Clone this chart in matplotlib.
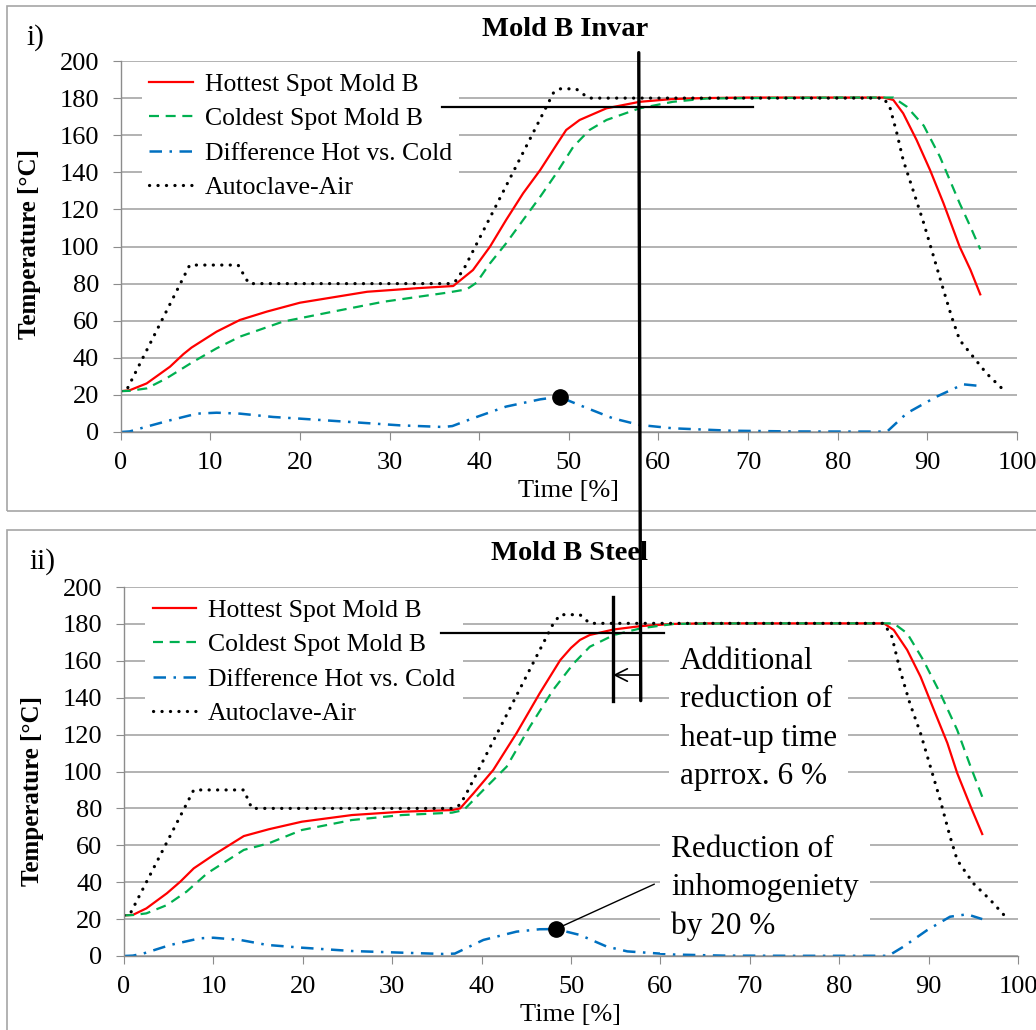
import matplotlib
matplotlib.use("Agg")
import matplotlib.pyplot as plt
from matplotlib.patches import Rectangle, ConnectionPatch

plt.rcParams['font.family'] = ['Liberation Serif', 'DejaVu Serif']

# ---- Mold B Invar ----
invar_hot_t = [0, 1, 2.9, 5.5, 7.0, 7.9, 10.7, 13.3, 16.3, 20, 27.5, 33, 37.1, 39.3, 41.2, 43.0,
               44.9, 46.8, 48.6, 49.7, 51.2, 54.2, 57.9, 61.6, 65, 70, 80, 85.1, 86.2, 87.3, 88.8,
               90.3, 91.8, 93.6, 94.8, 95.9]
invar_hot = [22, 22.5, 26.2, 35.2, 42, 45.5, 54.1, 60.4, 64.9, 69.7, 75.6, 77.5, 78.7, 87.3, 99.9,
             114.3, 128.7, 141.2, 154.7, 162.8, 168.2, 174.5, 178, 179.5, 180, 180.3, 180.3, 180.3,
             179, 171.8, 157.4, 141.2, 123.3, 99.9, 87.5, 74.2]

invar_cold_t = [0, 1, 2.9, 5.1, 8.1, 10.7, 13.3, 18.1, 23.7, 29.3, 36.4, 38.6, 39.7, 41.2, 43.0, 44.9,
                46.8, 48.6, 50.5, 52.3, 54.2, 57.9, 61.6, 65.4, 70, 80, 86.2, 87.7, 89.6, 91.4, 93.6,
                94.8, 95.9]
invar_cold = [22, 22.2, 23.5, 28.9, 37.9, 45.1, 51.4, 59.5, 64.9, 70.2, 75.1, 76.9, 80.5, 90.9, 101.7,
              114.3, 126.8, 139.4, 153.8, 162.8, 168.2, 174.5, 178, 179.8, 180, 180.3, 180.3, 175.4,
              165.1, 148.4, 123.3, 110.7, 98.5]

invar_diff_t = [0, 1, 2.9, 5.5, 8.5, 10.7, 13.3, 17.0, 20, 25.6, 31.1, 36.0, 37.0, 39.3, 43.0, 46.8,
                48.9, 51.6, 54.9, 57.9, 61.6, 68, 75, 85.5, 87.7, 91.0, 94.0, 95.9]
invar_diff = [0, 0.3, 2.9, 6.3, 9.9, 10.4, 9.9, 8.1, 7.2, 5.4, 3.6, 2.7, 3.2, 7.4, 13.7, 17.6, 19.0,
              13.7, 7.4, 3.8, 2.0, 0.7, 0.3, 0.2, 10.1, 19.0, 25.7, 24.8]

invar_air_t = [0, 0.7, 7.7, 13.1, 14.3, 36.7, 37.3, 38.3, 48.3, 49, 50.8, 52.2, 85.1, 85.8, 86.6,
               87.3, 88.4, 89.6, 90.7, 91.8, 92.7, 93.6, 95.1, 96.6, 98.7]
invar_air = [22, 23, 90, 90, 80, 80, 81, 88, 183, 185, 185, 180, 180, 175.4, 161, 146.6, 130.4,
             112.5, 94.5, 76.5, 62.2, 49.6, 40.6, 31.6, 21.7]

invar_peak = (49, 19)

# ---- Mold B Steel ----
steel_hot_t = [0, 1, 2.5, 4.8, 6.3, 7.8, 10.0, 13.4, 16.2, 19.9, 25.5, 31.1, 36.7, 37.6, 39.1, 41.3,
               43.9, 46.5, 48.8, 50.0, 51.0, 52.1, 54.8, 57.8, 61.5, 65, 70, 80, 85.0, 86.1, 87.6,
               89.1, 90.6, 92.1, 93.2, 94.7, 96.0]
steel_hot = [22, 22.3, 25.8, 34, 40.3, 47.5, 54.7, 65, 68.7, 72.8, 76.4, 78.2, 79.1, 80, 88.2, 100.8,
             120.7, 142.4, 160.4, 167, 171.3, 174, 177, 178.8, 180, 180.3, 180.3, 180.3, 180.3,
             176.7, 165.9, 151.4, 133.3, 115.4, 99.1, 81, 66.1]

steel_cold_t = [0, 1, 2.5, 4.8, 7.0, 9.3, 13.4, 16.2, 19.9, 25.5, 31.1, 36.7, 38.0, 40.2, 42.8, 45.4,
                48.0, 50.3, 52.1, 54.8, 57.8, 61.5, 65, 70, 80, 86.1, 87.6, 89.4, 91.3, 93.2, 94.7,
                96.0]
steel_cold = [22, 22.2, 23.1, 27.6, 34.9, 44.8, 57.5, 61.1, 68.3, 73.7, 76.4, 77.7, 79.1, 90, 102.6,
              124.3, 144.2, 158.6, 167.6, 174, 177.6, 180, 180.2, 180.3, 180.3, 180.3, 174.9, 160.4,
              142.4, 122.5, 102.6, 86.3]

steel_diff_t = [0, 1, 2.2, 5.2, 8.5, 10.0, 13.0, 16.0, 19.9, 25.5, 31.1, 35.7, 37.0, 40.2, 43.9, 46.5,
                48.3, 51.0, 54.0, 56.3, 61.5, 67, 75, 85.5, 87.2, 89.8, 92.4, 94.3, 96.0]
steel_diff = [0, 0.2, 1.4, 6.0, 9.6, 9.9, 8.7, 6.0, 4.5, 2.7, 1.8, 1.1, 1.3, 8.7, 13.2, 14.5, 14.6,
              11.4, 5.1, 2.5, 0.8, 0.2, 0.1, 0.1, 5.1, 13.9, 21.3, 22.6, 20]

steel_air_t = [0, 0.7, 7.8, 13.4, 14.3, 36.8, 37.6, 38.4, 48.0, 48.8, 51.0, 52.1, 85.0, 85.9, 86.8,
               87.9, 89.1, 90.2, 91.3, 92.4, 93.2, 95.0, 96.9, 98.6]
steel_air = [22, 23, 90, 90, 80, 80, 82, 89, 180, 185, 185, 180.3, 180.3, 173, 155, 137, 120.7,
             102.6, 84.5, 64.7, 52, 39.4, 30.4, 21.3]

steel_peak = (48.3, 14.6)

# marker lines for the heat-up comparison
target_temp = 175
invar_reach = 57.8
steel_reach = 54.7

labels = ["Hottest Spot Mold B", "Coldest Spot Mold B", "Difference Hot vs. Cold", "Autoclave-Air"]

W, H = 1036, 1030
fig = plt.figure(figsize=(W / 100, H / 100), dpi=100)


def px_rect(l, t, r, b):
    return [l / W, 1 - b / H, (r - l) / W, (b - t) / H]


# panel frames
for top, bottom in [(6, 511), (529.5, 1040)]:
    fig.patches.append(Rectangle((7 / W, 1 - bottom / H), 1.1, (bottom - top) / H,
                                 transform=fig.transFigure, fill=False,
                                 ec='#a6a6a6', lw=1.2, zorder=0))

ax1 = fig.add_axes(px_rect(120.7, 61, 1017, 432))
ax2 = fig.add_axes(px_rect(124, 587, 1018, 956))


def draw_panel(ax, series, title, title_pos, ylab_y):
    (ht, hv), (ct, cv), (dt, dv), (at, av) = series
    ax.plot(ht, hv, color='#ff0000', lw=1.6, label=labels[0])
    ax.plot(ct, cv, color='#00b050', lw=1.6, dashes=(4.5, 3), label=labels[1])
    ax.plot(dt, dv, color='#0070c0', lw=1.8, dashes=(5, 3, 1, 3), label=labels[2])
    ax.plot(at, av, color='black', lw=2.3, linestyle=(0, (0.05, 2.6)),
            dash_capstyle='round', label=labels[3])

    ax.set_xlim(0, 100)
    ax.set_ylim(0, 200)
    ax.set_xticks(range(0, 101, 10))
    ax.set_yticks(range(0, 201, 20))
    ax.grid(axis='y', color='#a6a6a6', lw=1.2)
    ax.set_axisbelow(True)
    for s in ['top', 'right']:
        ax.spines[s].set_visible(False)
    for s in ['left', 'bottom']:
        ax.spines[s].set_color('#8c8c8c')
        ax.spines[s].set_linewidth(1.0)
    ax.tick_params(direction='out', length=5.5, color='#8c8c8c', labelsize=19)
    ax.tick_params(axis='x', pad=9)
    ax.tick_params(axis='y', pad=10)

    ax.set_ylabel('Temperature [°C]', fontsize=18, fontweight='bold', va='center')
    ax.yaxis.set_label_coords(-0.102, ylab_y)
    ax.set_xlabel('Time [%]', fontsize=19, va='center')
    ax.xaxis.set_label_coords(0.5, -0.159)

    ax.text(title_pos[0], title_pos[1], title, transform=ax.transAxes, ha='center', va='center',
            fontsize=20.5, fontweight='bold')

    ax.legend(loc='upper left', bbox_to_anchor=(0.0234, 0.989), frameon=True, fancybox=False,
              edgecolor='none', facecolor='white', framealpha=1, fontsize=18.5,
              handlelength=1.7, handletextpad=0.45, labelspacing=0.45,
              borderpad=0.3, borderaxespad=0)


draw_panel(ax1, [(invar_hot_t, invar_hot), (invar_cold_t, invar_cold),
                 (invar_diff_t, invar_diff), (invar_air_t, invar_air)],
           'Mold B Invar', (0.496, 1.085), 0.508)
draw_panel(ax2, [(steel_hot_t, steel_hot), (steel_cold_t, steel_cold),
                 (steel_diff_t, steel_diff), (steel_air_t, steel_air)],
           'Mold B Steel', (0.498, 1.092), 0.448)

fig.text(35 / W, 1 - 38 / H, 'i)', fontsize=21, ha='center', va='center')
fig.text(42 / W, 1 - 562 / H, 'ii)', fontsize=21, ha='center', va='center')

# peak difference markers
ax1.plot(*invar_peak, 'o', color='black', ms=11, zorder=7)
ax2.plot(*steel_peak, 'o', color='black', ms=11, zorder=7)

# target temperature lines
ax1.plot([35.9, 70.6], [target_temp, target_temp], color='black', lw=1.6, zorder=6)
ax2.plot([35.5, 60.4], [target_temp, target_temp], color='black', lw=1.6, zorder=6)

# vertical line through both panels at the Invar heat-up time
con = ConnectionPatch(xyA=(invar_reach, 204.5), coordsA=ax1.transData,
                      xyB=(invar_reach, 138.4), coordsB=ax2.transData,
                      color='black', lw=2.4, zorder=8)
fig.add_artist(con)

ax2.plot([steel_reach, steel_reach], [194.4, 138.4], color='black', lw=2.4, zorder=6)
ax2.annotate('', xy=(steel_reach, 152.3), xytext=(invar_reach, 152.3),
             arrowprops=dict(arrowstyle='->,head_length=0.9,head_width=0.45', color='black',
                             lw=1.2, shrinkA=0, shrinkB=0), zorder=6)

ax2.text(62.2, 128.5, 'Additional\nreduction of\nheat-up time\naprrox. 6 %', fontsize=22.5,
         ha='left', va='center', linespacing=1.42, zorder=5,
         bbox=dict(fc='white', ec='none', pad=8))

ax2.plot([steel_peak[0], 59.3], [steel_peak[1], 38.9], color='black', lw=1.0, zorder=6)
ax2.text(61.2, 36.7, 'Reduction of\ninhomogeniety\nby 20 %', fontsize=22.5,
         ha='left', va='center', linespacing=1.42, zorder=5,
         bbox=dict(fc='white', ec='none', pad=8))

fig.savefig('out.png', dpi=100)
